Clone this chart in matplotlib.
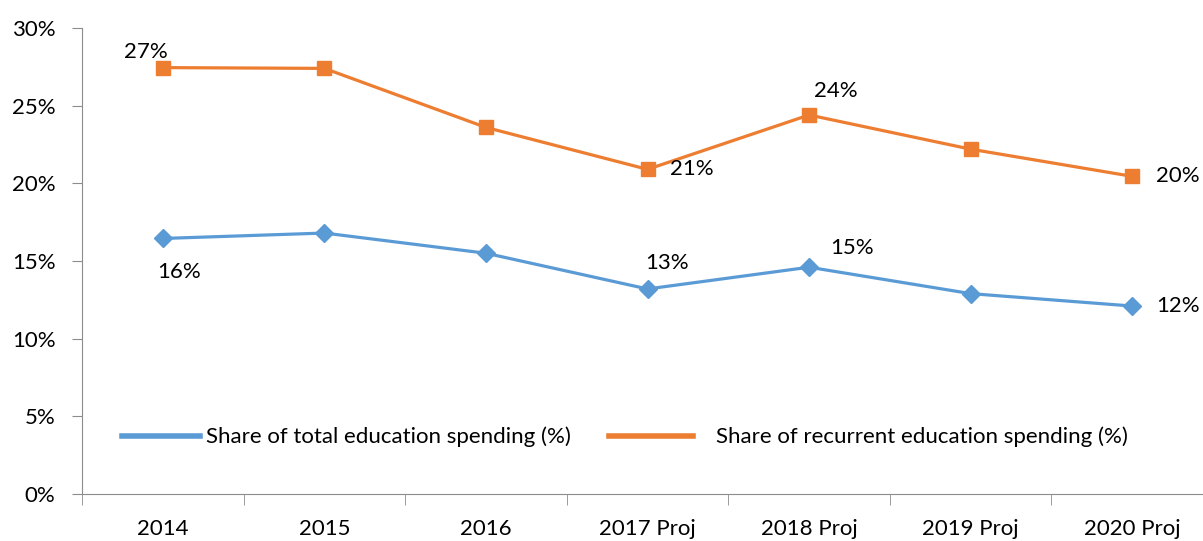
import matplotlib
matplotlib.use("Agg")
import matplotlib.pyplot as plt
from matplotlib.lines import Line2D
import matplotlib.ticker as ticker

years = ["2014", "2015", "2016", "2017 Proj", "2018 Proj", "2019 Proj", "2020 Proj"]
total_share = [16.45, 16.8, 15.5, 13.2, 14.6, 12.9, 12.1]
recurrent_share = [27.45, 27.4, 23.6, 20.9, 24.4, 22.2, 20.45]
series_names = ["Share of total education spending (%)",
                "Share of recurrent education spending (%)"]

# which points carry a data label, and where it sits (offset in points)
total_labels = {0: (12, -24), 3: (14, 19), 4: (31, 14), 6: (33, 0)}
recurrent_labels = {0: (-12, 11), 3: (32, 0), 4: (19, 17), 6: (33, 0)}

blue = "#5b9bd5"
orange = "#ed7d31"
grey = "#8c8c8c"
fs = 16

plt.rcParams["font.family"] = ["Lato", "DejaVu Sans"]

fig = plt.figure(figsize=(12.03, 5.41), dpi=100)
ax = fig.add_axes([82 / 1203, 47 / 541, (1213 - 82) / 1203, (494 - 28) / 541])

x = list(range(len(years)))
ax.plot(x, total_share, color=blue, lw=2.3, marker="D", ms=9, clip_on=False)
ax.plot(x, recurrent_share, color=orange, lw=2.3, marker="s", ms=10, clip_on=False)

for i, off in total_labels.items():
    ax.annotate("%d%%" % round(total_share[i]), (i, total_share[i]), xytext=off,
                textcoords="offset points", ha="center", va="center", fontsize=fs)
for i, off in recurrent_labels.items():
    ax.annotate("%d%%" % round(recurrent_share[i]), (i, recurrent_share[i]), xytext=off,
                textcoords="offset points", ha="center", va="center", fontsize=fs)

ax.set_xlim(-0.5, len(years) - 0.5)
ax.set_ylim(0, 30)
ax.yaxis.set_major_locator(ticker.MultipleLocator(5))
ax.yaxis.set_major_formatter(ticker.FuncFormatter(lambda v, p: "%d%%" % v))
ax.set_xticks(x)
ax.set_xticklabels(years)
ax.set_xticks([i - 0.5 for i in range(len(years) + 1)], minor=True)
ax.tick_params(axis="x", which="major", length=0, pad=18, labelsize=fs)
ax.tick_params(axis="x", which="minor", length=8, color=grey, direction="out")
ax.tick_params(axis="y", length=7, color=grey, labelsize=fs, pad=12)

for s in ["top", "right"]:
    ax.spines[s].set_visible(False)
for s in ["left", "bottom"]:
    ax.spines[s].set_color(grey)

# two legends, Excel puts the entries with different gaps
leg1 = ax.legend([Line2D([], [], color=blue, lw=4)], series_names[:1],
                 frameon=False, fontsize=fs, handlelength=3.5, handletextpad=0.3,
                 borderaxespad=0, borderpad=0,
                 loc="center left", bbox_to_anchor=(40 / 1131, 0.122))
ax.add_artist(leg1)
ax.legend([Line2D([], [], color=orange, lw=4)], series_names[1:],
          frameon=False, fontsize=fs, handlelength=3.8, handletextpad=1.0,
          borderaxespad=0, borderpad=0,
          loc="center left", bbox_to_anchor=(527 / 1131, 0.122))

fig.savefig("out.png", dpi=100)
